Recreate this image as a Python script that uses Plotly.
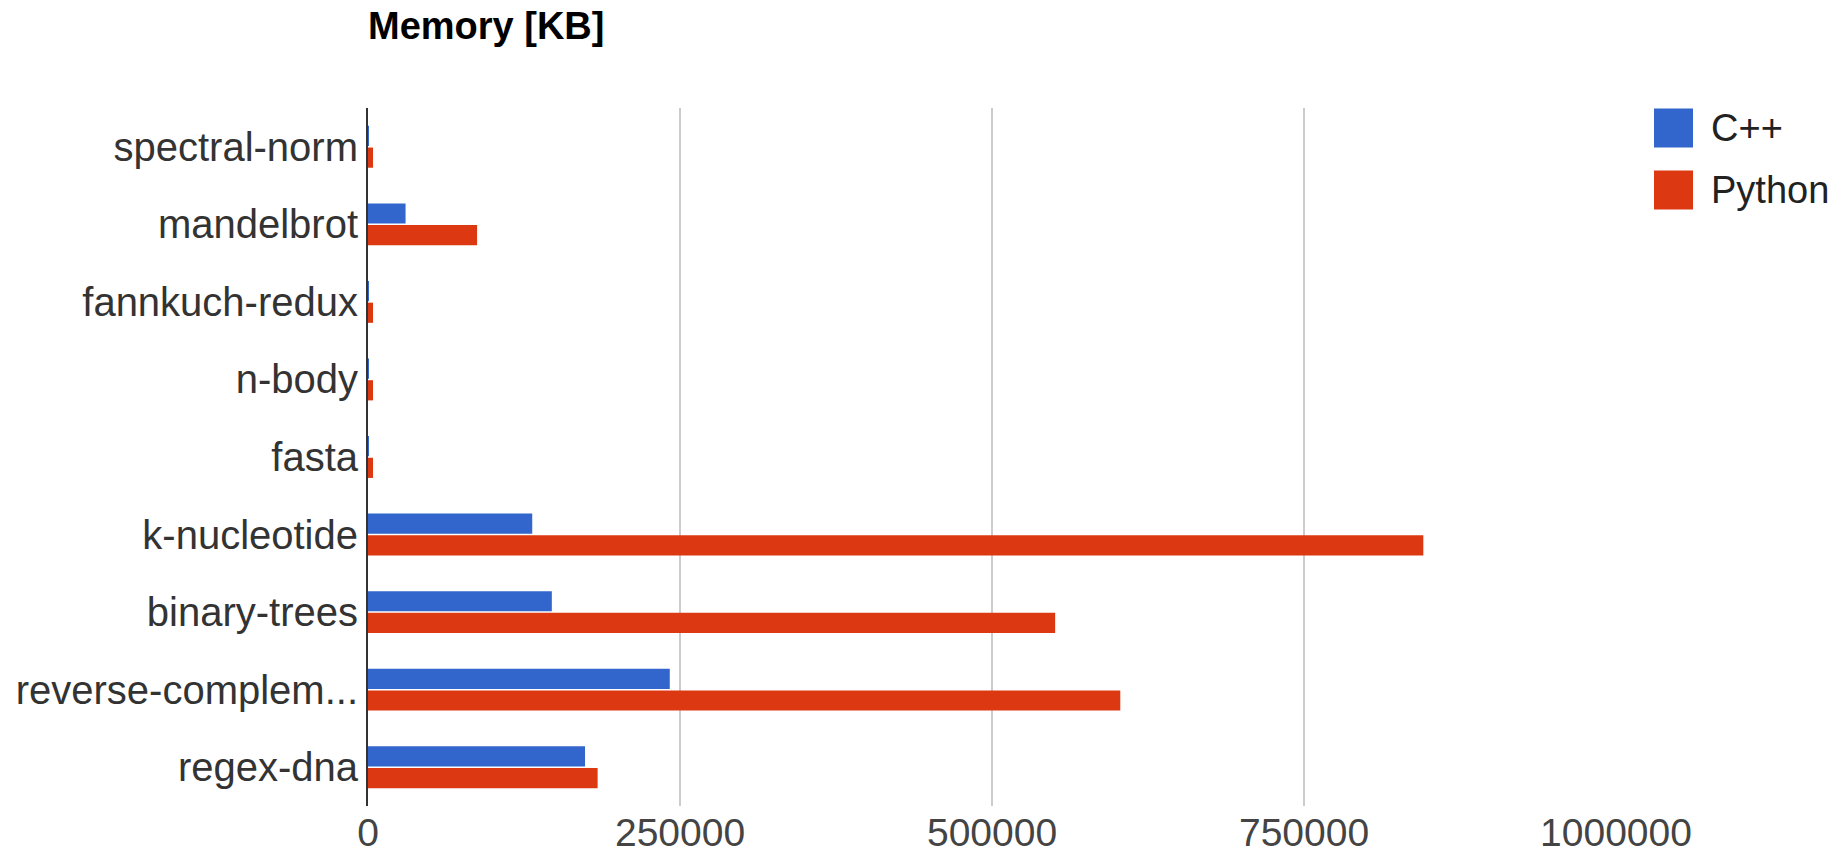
import plotly.graph_objects as go

categories = ["spectral-norm", "mandelbrot", "fannkuch-redux", "n-body", "fasta",
              "k-nucleotide", "binary-trees", "reverse-complement", "regex-dna"]
category_labels = ["spectral-norm", "mandelbrot", "fannkuch-redux", "n-body", "fasta",
                   "k-nucleotide", "binary-trees", "reverse-complem...", "regex-dna"]
cpp_kb = [700, 30100, 700, 700, 700, 131600, 147300, 241800, 173900]
python_kb = [4000, 87400, 4000, 4000, 4000, 845600, 550600, 602800, 184000]
x_ticks = [0, 250000, 500000, 750000, 1000000]
x_tick_labels = ["0", "250000", "500000", "750000", "1000000"]
series_names = ["C++", "Python"]
series_colors = ["#3366CC", "#DC3912"]

FONT = "Arial, 'Liberation Sans', sans-serif"

fig = go.Figure()
for name, vals, col in zip(series_names, [cpp_kb, python_kb], series_colors):
    fig.add_trace(go.Bar(
        y=categories, x=vals, name=name, orientation="h",
        marker=dict(color=col, line=dict(width=0)),
        showlegend=False,
    ))

W, H = 1843, 866
ml, mr, mt, mb = 368, 227, 108, 60

fig.update_layout(
    width=W, height=H,
    margin=dict(l=ml, r=mr, t=mt, b=mb, pad=0),
    paper_bgcolor="white", plot_bgcolor="white",
    barmode="group", bargap=0.44, bargroupgap=0.07,
    font=dict(family=FONT, size=40, color="#222222"),
    title=dict(text="<b>Memory [KB]</b>", x=0, xref="paper", xanchor="left",
               y=1 - 26 / H, yref="container", yanchor="middle",
               font=dict(family=FONT, size=38, color="#000000")),
    xaxis=dict(range=[0, 1000000], tickvals=x_ticks, ticktext=x_tick_labels,
               showgrid=True, gridcolor="#CCCCCC", gridwidth=2,
               zeroline=False, showline=False, automargin=False,
               ticks="", tickfont=dict(family=FONT, size=39, color="#444444")),
    yaxis=dict(categoryorder="array", categoryarray=categories,
               tickvals=categories, ticktext=category_labels,
               autorange="reversed", showgrid=False, zeroline=False,
               showline=True, linecolor="#333333", linewidth=2,
               ticks="", ticklabelstandoff=0, automargin=False,
               tickfont=dict(family=FONT, size=40, color="#333333")),
)

# legend drawn as swatches + labels (paper coords from pixel layout)
pw = W - ml - mr
ph = H - mt - mb
def px_x(x):
    return (x - ml) / pw
def px_y(y):
    return 1 - (y - mt) / ph

legend_rows = [128, 190]
for name, col, yc in zip(series_names, series_colors, legend_rows):
    fig.add_shape(type="rect", xref="paper", yref="paper",
                  x0=px_x(1654), x1=px_x(1693), y0=px_y(yc - 19.5), y1=px_y(yc + 19.5),
                  fillcolor=col, line=dict(width=0), layer="above")
    fig.add_annotation(xref="paper", yref="paper", x=px_x(1709), y=px_y(yc),
                       xanchor="left", yanchor="middle", showarrow=False,
                       text=name, font=dict(family=FONT, size=38, color="#222222"))

fig.write_html("out.html")
